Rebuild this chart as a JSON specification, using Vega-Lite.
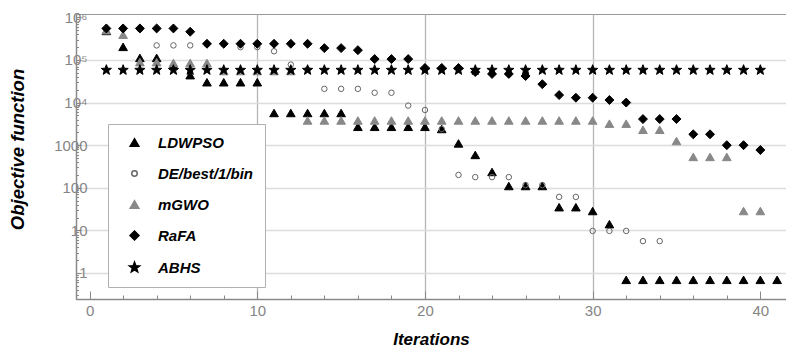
{
  "$schema": "https://vega.github.io/schema/vega-lite/v6.json",
  "autosize": {"type": "none"},
  "width": 710,
  "height": 285,
  "padding": {"left": 76, "top": 14, "right": 0, "bottom": 52},
  "background": "white",
  "config": {
    "view": {"stroke": "#9a9a9a", "strokeWidth": 1},
    "font": "Liberation Sans"
  },
  "datasets": {
    "pts": [
      {"series":"LDWPSO","it":1,"v":480000},{"series":"LDWPSO","it":2,"v":203000},{"series":"LDWPSO","it":3,"v":112000},{"series":"LDWPSO","it":4,"v":112000},{"series":"LDWPSO","it":5,"v":75000},{"series":"LDWPSO","it":6,"v":44000},{"series":"LDWPSO","it":7,"v":30000},{"series":"LDWPSO","it":8,"v":30000},{"series":"LDWPSO","it":9,"v":30000},{"series":"LDWPSO","it":10,"v":30000},
      {"series":"LDWPSO","it":11,"v":5700},{"series":"LDWPSO","it":12,"v":5700},{"series":"LDWPSO","it":13,"v":5700},{"series":"LDWPSO","it":14,"v":5700},{"series":"LDWPSO","it":15,"v":5700},{"series":"LDWPSO","it":16,"v":2700},{"series":"LDWPSO","it":17,"v":2700},{"series":"LDWPSO","it":18,"v":2700},{"series":"LDWPSO","it":19,"v":2700},{"series":"LDWPSO","it":20,"v":2700},
      {"series":"LDWPSO","it":21,"v":2400},{"series":"LDWPSO","it":22,"v":1100},{"series":"LDWPSO","it":23,"v":590},{"series":"LDWPSO","it":24,"v":235},{"series":"LDWPSO","it":25,"v":110},{"series":"LDWPSO","it":26,"v":110},{"series":"LDWPSO","it":27,"v":110},{"series":"LDWPSO","it":28,"v":35},{"series":"LDWPSO","it":29,"v":35},{"series":"LDWPSO","it":30,"v":28.5},
      {"series":"LDWPSO","it":31,"v":14},{"series":"LDWPSO","it":32,"v":0.69},{"series":"LDWPSO","it":33,"v":0.69},{"series":"LDWPSO","it":34,"v":0.69},{"series":"LDWPSO","it":35,"v":0.69},{"series":"LDWPSO","it":36,"v":0.69},{"series":"LDWPSO","it":37,"v":0.69},{"series":"LDWPSO","it":38,"v":0.69},{"series":"LDWPSO","it":39,"v":0.69},{"series":"LDWPSO","it":40,"v":0.69},{"series":"LDWPSO","it":41,"v":0.69},

      {"series":"DE/best/1/bin","it":1,"v":530000},{"series":"DE/best/1/bin","it":2,"v":530000},{"series":"DE/best/1/bin","it":3,"v":530000},{"series":"DE/best/1/bin","it":4,"v":220000},{"series":"DE/best/1/bin","it":5,"v":220000},{"series":"DE/best/1/bin","it":6,"v":220000},{"series":"DE/best/1/bin","it":7,"v":235000},{"series":"DE/best/1/bin","it":8,"v":235000},{"series":"DE/best/1/bin","it":9,"v":200000},{"series":"DE/best/1/bin","it":10,"v":200000},
      {"series":"DE/best/1/bin","it":11,"v":160000},{"series":"DE/best/1/bin","it":12,"v":78000},{"series":"DE/best/1/bin","it":13,"v":60000},{"series":"DE/best/1/bin","it":14,"v":21000},{"series":"DE/best/1/bin","it":15,"v":21000},{"series":"DE/best/1/bin","it":16,"v":21000},{"series":"DE/best/1/bin","it":17,"v":17000},{"series":"DE/best/1/bin","it":18,"v":17000},{"series":"DE/best/1/bin","it":19,"v":8500},{"series":"DE/best/1/bin","it":20,"v":6700},
      {"series":"DE/best/1/bin","it":21,"v":2400},{"series":"DE/best/1/bin","it":22,"v":200},{"series":"DE/best/1/bin","it":23,"v":178},{"series":"DE/best/1/bin","it":24,"v":178},{"series":"DE/best/1/bin","it":25,"v":178},{"series":"DE/best/1/bin","it":26,"v":116},{"series":"DE/best/1/bin","it":27,"v":116},{"series":"DE/best/1/bin","it":28,"v":61},{"series":"DE/best/1/bin","it":29,"v":61},{"series":"DE/best/1/bin","it":30,"v":9.7},
      {"series":"DE/best/1/bin","it":31,"v":9.7},{"series":"DE/best/1/bin","it":32,"v":9.7},{"series":"DE/best/1/bin","it":33,"v":5.6},{"series":"DE/best/1/bin","it":34,"v":5.6},

      {"series":"mGWO","it":1,"v":500000},{"series":"mGWO","it":2,"v":390000},{"series":"mGWO","it":3,"v":89000},{"series":"mGWO","it":4,"v":89000},{"series":"mGWO","it":5,"v":85000},{"series":"mGWO","it":6,"v":85000},{"series":"mGWO","it":7,"v":85000},{"series":"mGWO","it":8,"v":55000},{"series":"mGWO","it":9,"v":55000},{"series":"mGWO","it":10,"v":55000},
      {"series":"mGWO","it":11,"v":55000},{"series":"mGWO","it":12,"v":55000},{"series":"mGWO","it":13,"v":3800},{"series":"mGWO","it":14,"v":3800},{"series":"mGWO","it":15,"v":3800},{"series":"mGWO","it":16,"v":3800},{"series":"mGWO","it":17,"v":3800},{"series":"mGWO","it":18,"v":3800},{"series":"mGWO","it":19,"v":3800},{"series":"mGWO","it":20,"v":3800},
      {"series":"mGWO","it":21,"v":3800},{"series":"mGWO","it":22,"v":3800},{"series":"mGWO","it":23,"v":3800},{"series":"mGWO","it":24,"v":3800},{"series":"mGWO","it":25,"v":3800},{"series":"mGWO","it":26,"v":3800},{"series":"mGWO","it":27,"v":3800},{"series":"mGWO","it":28,"v":3800},{"series":"mGWO","it":29,"v":3800},{"series":"mGWO","it":30,"v":3800},
      {"series":"mGWO","it":31,"v":3200},{"series":"mGWO","it":32,"v":3200},{"series":"mGWO","it":33,"v":2300},{"series":"mGWO","it":34,"v":2300},{"series":"mGWO","it":35,"v":1250},{"series":"mGWO","it":36,"v":530},{"series":"mGWO","it":37,"v":530},{"series":"mGWO","it":38,"v":530},{"series":"mGWO","it":39,"v":28.5},{"series":"mGWO","it":40,"v":28.5},

      {"series":"RaFA","it":1,"v":550000},{"series":"RaFA","it":2,"v":550000},{"series":"RaFA","it":3,"v":550000},{"series":"RaFA","it":4,"v":550000},{"series":"RaFA","it":5,"v":550000},{"series":"RaFA","it":6,"v":460000},{"series":"RaFA","it":7,"v":240000},{"series":"RaFA","it":8,"v":240000},{"series":"RaFA","it":9,"v":240000},{"series":"RaFA","it":10,"v":240000},
      {"series":"RaFA","it":11,"v":240000},{"series":"RaFA","it":12,"v":240000},{"series":"RaFA","it":13,"v":240000},{"series":"RaFA","it":14,"v":190000},{"series":"RaFA","it":15,"v":190000},{"series":"RaFA","it":16,"v":170000},{"series":"RaFA","it":17,"v":105000},{"series":"RaFA","it":18,"v":105000},{"series":"RaFA","it":19,"v":105000},{"series":"RaFA","it":20,"v":65000},
      {"series":"RaFA","it":21,"v":65000},{"series":"RaFA","it":22,"v":65000},{"series":"RaFA","it":23,"v":52000},{"series":"RaFA","it":24,"v":47000},{"series":"RaFA","it":25,"v":47000},{"series":"RaFA","it":26,"v":42000},{"series":"RaFA","it":27,"v":27000},{"series":"RaFA","it":28,"v":15000},{"series":"RaFA","it":29,"v":13000},{"series":"RaFA","it":30,"v":13000},
      {"series":"RaFA","it":31,"v":11500},{"series":"RaFA","it":32,"v":10000},{"series":"RaFA","it":33,"v":4100},{"series":"RaFA","it":34,"v":4100},{"series":"RaFA","it":35,"v":4100},{"series":"RaFA","it":36,"v":1800},{"series":"RaFA","it":37,"v":1800},{"series":"RaFA","it":38,"v":1000},{"series":"RaFA","it":39,"v":1000},{"series":"RaFA","it":40,"v":770},

      {"series":"ABHS","it":1,"v":58000},{"series":"ABHS","it":2,"v":58000},{"series":"ABHS","it":3,"v":58000},{"series":"ABHS","it":4,"v":58000},{"series":"ABHS","it":5,"v":58000},{"series":"ABHS","it":6,"v":58000},{"series":"ABHS","it":7,"v":58000},{"series":"ABHS","it":8,"v":58000},{"series":"ABHS","it":9,"v":58000},{"series":"ABHS","it":10,"v":58000},
      {"series":"ABHS","it":11,"v":58000},{"series":"ABHS","it":12,"v":58000},{"series":"ABHS","it":13,"v":58000},{"series":"ABHS","it":14,"v":58000},{"series":"ABHS","it":15,"v":58000},{"series":"ABHS","it":16,"v":58000},{"series":"ABHS","it":17,"v":58000},{"series":"ABHS","it":18,"v":58000},{"series":"ABHS","it":19,"v":58000},{"series":"ABHS","it":20,"v":58000},
      {"series":"ABHS","it":21,"v":58000},{"series":"ABHS","it":22,"v":58000},{"series":"ABHS","it":23,"v":58000},{"series":"ABHS","it":24,"v":58000},{"series":"ABHS","it":25,"v":58000},{"series":"ABHS","it":26,"v":58000},{"series":"ABHS","it":27,"v":58000},{"series":"ABHS","it":28,"v":58000},{"series":"ABHS","it":29,"v":58000},{"series":"ABHS","it":30,"v":58000},
      {"series":"ABHS","it":31,"v":58000},{"series":"ABHS","it":32,"v":58000},{"series":"ABHS","it":33,"v":58000},{"series":"ABHS","it":34,"v":58000},{"series":"ABHS","it":35,"v":58000},{"series":"ABHS","it":36,"v":58000},{"series":"ABHS","it":37,"v":58000},{"series":"ABHS","it":38,"v":58000},{"series":"ABHS","it":39,"v":58000},{"series":"ABHS","it":40,"v":58000}
    ]
  },
  "data": {"name": "pts"},
  "mark": {"type": "point", "opacity": 1, "strokeWidth": 1},
  "encoding": {
    "x": {"field": "it", "type": "quantitative",
      "scale": {"domain": [-0.81, 41.53], "nice": false, "zero": false},
      "axis": {"orient": "bottom", "title": "Iterations",
        "values": [0,2,4,6,8,10,12,14,16,18,20,22,24,26,28,30,32,34,36,38,40],
        "labelExpr": "datum.value % 10 === 0 ? datum.label : ''",
        "labelFont": "Liberation Sans", "labelFontSize": 15, "labelColor": "#858585", "labelPadding": 12, "labelOverlap": false,
        "domainColor": "#8a8a8a", "domainWidth": 1.5,
        "tickColor": "#8a8a8a", "tickSize": {"condition": {"test": "datum.value % 10 === 0", "value": -8}, "value": -4},
        "grid": true, "gridColor": "#b5b5b5", "gridWidth": 1.3,
        "gridOpacity": {"condition": {"test": "datum.value == 10 || datum.value == 20 || datum.value == 30", "value": 1}, "value": 0},
        "titleFont": "Liberation Sans", "titleFontSize": 17, "titleFontWeight": "bold", "titleFontStyle": "italic", "titleColor": "#000", "titlePadding": 9}},
    "y": {"field": "v", "type": "quantitative",
      "scale": {"type": "log", "domain": [0.245, 1200000], "nice": false},
      "axis": {"orient": "left", "title": "Objective function",
        "values": [0.3,0.4,0.5,0.6,0.7,0.8,0.9,1,2,3,4,5,6,7,8,9,10,20,30,40,50,60,70,80,90,100,200,300,400,500,600,700,800,900,1000,2000,3000,4000,5000,6000,7000,8000,9000,10000,20000,30000,40000,50000,60000,70000,80000,90000,100000,200000,300000,400000,500000,600000,700000,800000,900000,1000000],
        "labelExpr": "datum.value == 10000 ? '10⁴' : datum.value == 100000 ? '10⁵' : datum.value == 1000000 ? '10⁶' : (indexof([1,10,100,1000], datum.value) >= 0 ? format(datum.value, 'd') : '')",
        "labelFont": "Liberation Sans", "labelFontSize": 15, "labelColor": "#858585", "labelPadding": -6, "labelOverlap": false,
        "domainColor": "#8a8a8a", "domainWidth": 1.5,
        "tickColor": "#8a8a8a", "tickSize": {"condition": {"test": "indexof([1,10,100,1000,10000,100000,1000000], datum.value) >= 0", "value": -5}, "value": -2.5},
        "grid": true, "gridColor": "#dcdcdc", "gridWidth": 1.6,
        "gridOpacity": {"condition": {"test": "indexof([1,10,100,1000,10000,100000], datum.value) >= 0", "value": 1}, "value": 0},
        "titleFont": "Liberation Sans", "titleFontSize": 18.5, "titleFontWeight": "bold", "titleFontStyle": "italic", "titleColor": "#000",
        "titleX": -49, "titleY": 135, "titleAngle": -90}},
    "shape": {"field": "series", "type": "nominal",
      "scale": {"domain": ["LDWPSO","DE/best/1/bin","mGWO","RaFA","ABHS"], "range": ["triangle-up","circle","triangle-up","diamond","M0,-1L0.25,-0.34L0.951,-0.309L0.40,0.13L0.588,0.809L0,0.42L-0.588,0.809L-0.40,0.13L-0.951,-0.309L-0.25,-0.34Z"]},
      "legend": {"orient": "none", "legendX": 32, "legendY": 110, "title": null,
        "fillColor": "white", "strokeColor": "#b0b0b0", "padding": 11, "symbolOffset": 8, "labelOffset": 16,
        "rowPadding": 15, "labelFont": "Liberation Sans", "labelFontSize": 15, "labelFontWeight": "bold", "labelFontStyle": "italic", "labelColor": "#000"}},
    "fill": {"field": "series", "type": "nominal",
      "scale": {"domain": ["LDWPSO","DE/best/1/bin","mGWO","RaFA","ABHS"], "range": ["#000000","transparent","#888888","#000000","#000000"]}},
    "stroke": {"field": "series", "type": "nominal",
      "scale": {"domain": ["LDWPSO","DE/best/1/bin","mGWO","RaFA","ABHS"], "range": ["#000000","#666666","#888888","#000000","#000000"]}},
    "size": {"field": "series", "type": "nominal",
      "scale": {"type": "ordinal", "domain": ["LDWPSO","DE/best/1/bin","mGWO","RaFA","ABHS"], "range": [75,30,75,80,115]}}
  }
}
